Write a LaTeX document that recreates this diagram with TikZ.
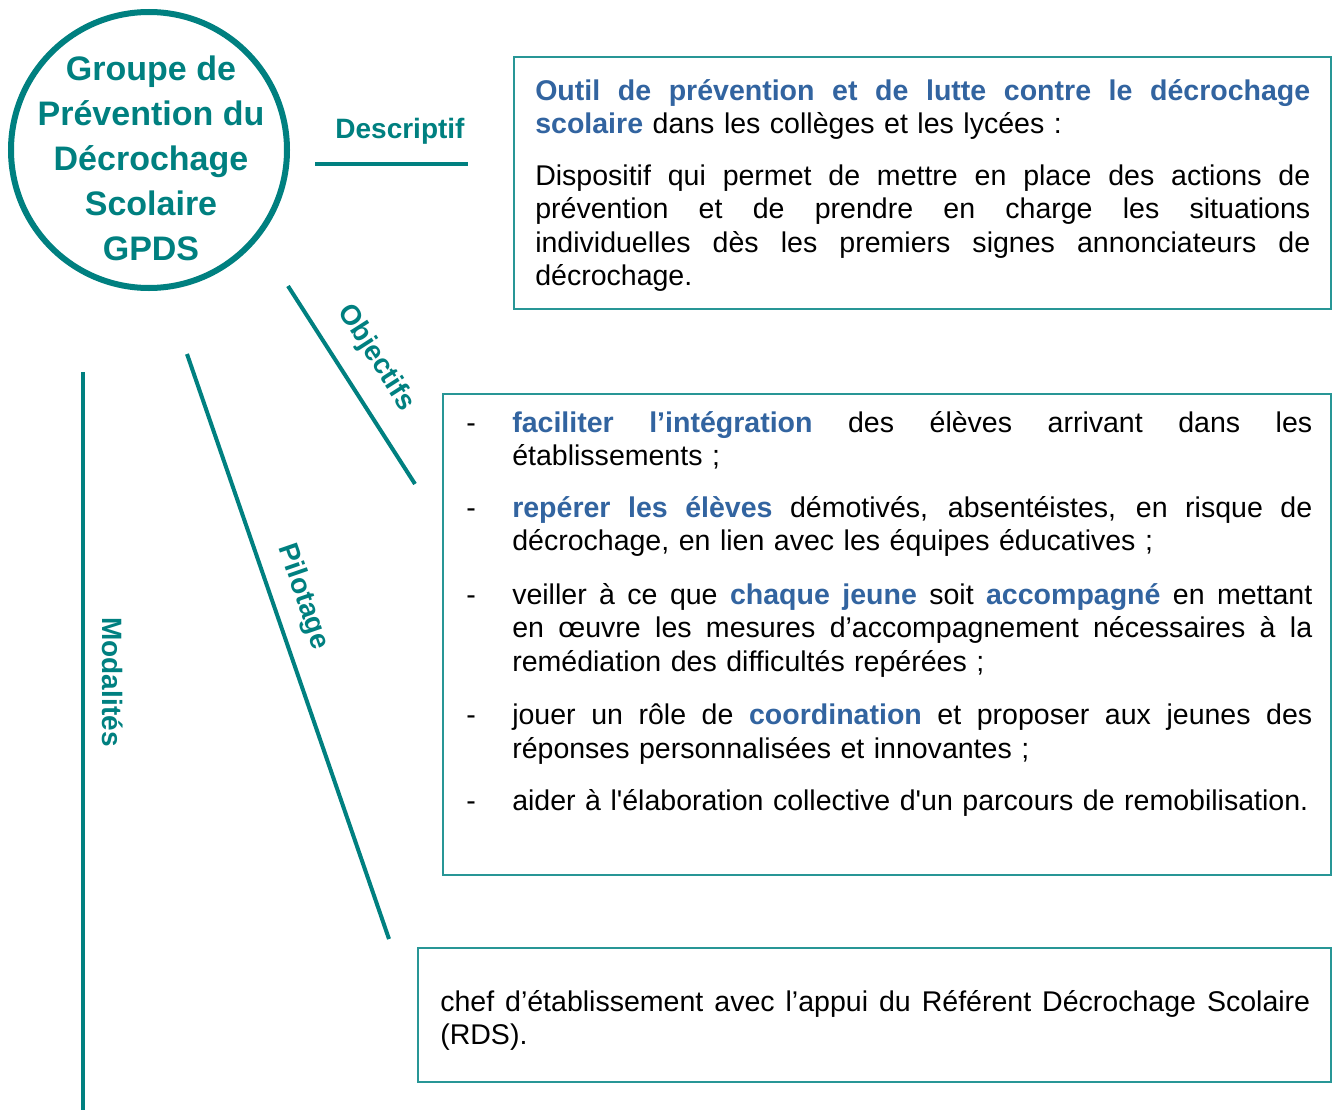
\documentclass[tikz,border=0pt]{standalone}
\usepackage{fontspec}
\setmainfont{Liberation Sans}
\usetikzlibrary{fit}
\definecolor{gteal}{RGB}{0,128,128}
\definecolor{gblue}{RGB}{50,100,160}
\definecolor{boxc}{RGB}{40,150,150}
\setlength{\parindent}{0pt}
\newlength\jw
\newcommand\bodyfont{\fontsize{21.4}{25.125}\selectfont}
\newcommand\hl[1]{\textcolor{gblue}{\bfseries #1}}
\newcommand\jline[1]{\leavevmode\hbox to \jw{\spaceskip=0.278em plus 1fil\relax #1}}
\newcommand\dashitem{\leavevmode\llap{\makebox[34.5pt][l]{-}}}
\newcommand\sq{{\addfontfeatures{Ligatures=TeXOff}'}}
\begin{document}
\begin{tikzpicture}[x=0.75pt,y=-0.75pt,
  box/.style={draw=boxc, line width=1pt, inner sep=0pt},
  txt/.style={inner sep=0pt, anchor=north west, align=left, font=\bodyfont},
  lbl/.style={text=gteal, font=\bfseries\fontsize{21}{25}\selectfont, inner sep=0pt},
  branch/.style={draw=gteal, line width=3pt}]
\fill[white] (0,0) rectangle (1332,1110);
\useasboundingbox (0,0) rectangle (1332,1110);

% central circle
\node[draw=gteal, line width=4.5pt, circle, minimum size=207pt, inner sep=0pt] (gpds) at (149,150) {};
\node[inner sep=0pt, anchor=north, align=center, text=gteal,
      font=\bfseries\fontsize{25.5}{33.75}\selectfont] (gpdstxt) at (151,48.5)
  {\strut Groupe de\\Prévention du\\Décrochage\\Scolaire\\GPDS};

% branches
\coordinate (d1) at (315,164); \coordinate (d2) at (468,164);
\coordinate (o1) at (288,286); \coordinate (o2) at (415,484);
\coordinate (p1) at (187,354); \coordinate (p2) at (389,939);
\coordinate (m1) at (83,372);  \coordinate (m2) at (83,1110);
\draw[branch] (d1) -- (d2);
\draw[branch] (o1) -- (o2);
\draw[branch] (p1) -- (p2);
\draw[branch] (m1) -- (m2);

\node[lbl] (ldesc) at (400,131) {Descriptif};
\node[lbl, rotate=-57.3] (lobj) at (376,358) {Objectifs};
\node[lbl, rotate=-70.9] (lpil) at (303,597) {Pilotage};
\node[lbl, rotate=-90] (lmod) at (113,682) {Modalités};

% boxes
\node[box, fit={(514,57) (1331,309)}] (b1) {};
\node[box, fit={(443,394) (1331,875)}] (b2) {};
\node[box, fit={(418,948) (1331,1082)}] (b3) {};

% box 1 text
\node[txt, text width=581.25pt] (t1) at (535,76.6) {%
\setlength\jw{581.25pt}%
\strut\jline{\hl{Outil de prévention et de lutte contre le décrochage}}\\
\hl{scolaire} dans les collèges et les lycées :\\[13.5pt]
\jline{Dispositif qui permet de mettre en place des actions de}\\
\jline{prévention et de prendre en charge les situations}\\
\jline{individuelles dès les premiers signes annonciateurs de}\\
décrochage.};

% box 2 text
\node[txt, text width=600pt] (t2) at (512,408.6) {%
\setlength\jw{600pt}%
\strut\dashitem\jline{\hl{faciliter l’intégration} des élèves arrivant dans les}\\
établissements ;\\[13.5pt]
\dashitem\jline{\hl{repérer les élèves} démotivés, absentéistes, en risque de}\\
décrochage, en lien avec les équipes éducatives ;\\[15pt]
\dashitem\jline{veiller à ce que \hl{chaque jeune} soit \hl{accompagné} en mettant}\\
\jline{en œuvre les mesures d’accompagnement nécessaires à la}\\
remédiation des difficultés repérées ;\\[15pt]
\dashitem\jline{jouer un rôle de \hl{coordination} et proposer aux jeunes des}\\
réponses personnalisées et innovantes ;\\[14.25pt]
\dashitem aider à l\sq élaboration collective d\sq un parcours de remobilisation.};

% box 3 text
\node[txt, text width=652.5pt] (t3) at (440,987.6) {%
\setlength\jw{652.5pt}%
\strut\jline{chef d’établissement avec l’appui du Référent Décrochage Scolaire}\\
(RDS).};
\end{tikzpicture}
\end{document}
